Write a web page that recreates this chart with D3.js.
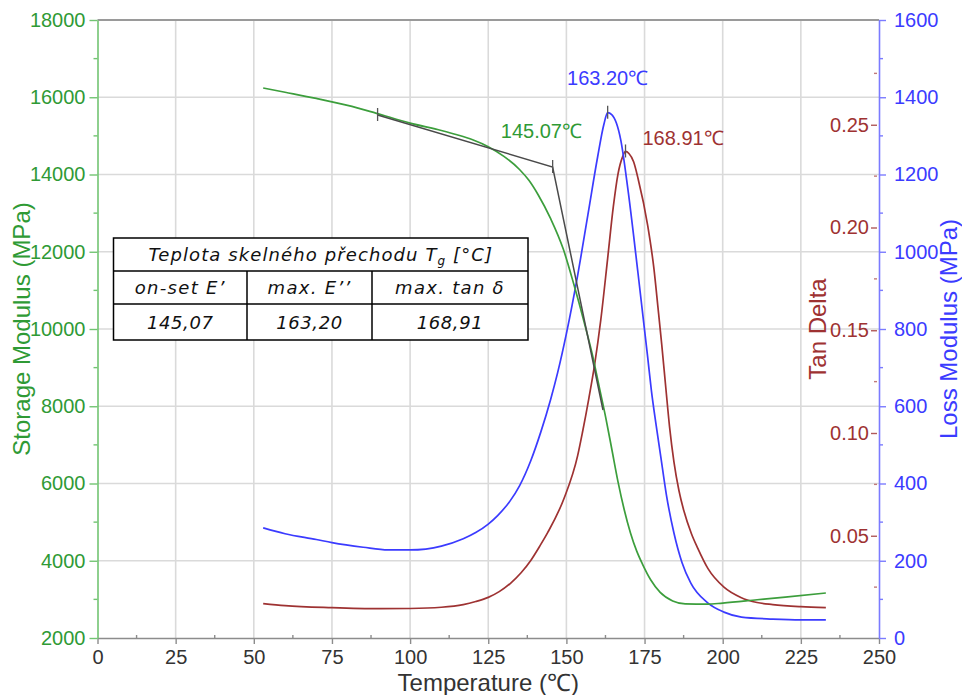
<!DOCTYPE html>
<html><head><meta charset="utf-8">
<script src="https://cdn.jsdelivr.net/npm/d3@7"></script>
<style>body{margin:0;background:#fff}svg{display:block}</style>
</head><body><svg id="c" width="962" height="695"></svg>
<script>
// ---------- data ----------
const storageT = [53, 60, 70, 80, 89, 100, 110, 115, 120, 125, 130, 135, 138, 141, 145, 149, 152.4, 155.6, 158.4, 160.5, 162.6, 164.5, 166.5, 168.5, 170.5, 172.5, 174.3, 177, 180, 184, 188, 195, 200, 211, 220, 233];
const storageE = [16240, 16130, 15970, 15790, 15590, 15330, 15140, 15030, 14900, 14720, 14470, 14130, 13850, 13470, 12850, 12070, 11150, 10200, 9300, 8500, 7700, 6900, 6050, 5320, 4720, 4250, 3920, 3500, 3180, 2960, 2885, 2875, 2905, 2990, 3060, 3165];

const lossT = [53, 60, 70, 75, 85, 93, 100, 110, 117, 121, 125, 128, 132, 135, 138.6, 141.8, 145, 147.2, 150, 153.6, 156.9, 160, 162, 163.2, 164.5, 167.4, 169.7, 172.9, 176, 177.2, 178.6, 180.2, 182, 184.4, 187, 189.8, 195.2, 200.4, 206, 216, 225, 233];
const lossE = [285, 270, 255, 247, 235, 228, 228, 238, 257, 273, 295, 317, 355, 394, 459, 533, 619, 687, 788, 939, 1097, 1246, 1330, 1360, 1355, 1289, 1160, 945, 727, 640, 557, 469, 370, 272, 195, 142, 91, 67, 54, 49, 47, 47];

const tanT = [53, 60, 75, 90, 100, 110, 117, 121, 125, 128.5, 132.2, 135.5, 138.6, 141.5, 144, 149.2, 153.6, 155.1, 157.2, 159, 161, 163.2, 165, 166.5, 168, 168.9, 170, 171.5, 172.9, 176, 178, 179.3, 180.5, 181.8, 183, 184.4, 186, 187.6, 190, 192, 195.3, 200.4, 205.8, 211, 216, 225, 233];
const tanD = [0.017, 0.016, 0.015, 0.0145, 0.0146, 0.0152, 0.0165, 0.0180, 0.0200, 0.0228, 0.0270, 0.0320, 0.0380, 0.0450, 0.0515, 0.068, 0.089, 0.100, 0.117, 0.133, 0.155, 0.185, 0.21, 0.226, 0.2345, 0.237, 0.236, 0.232, 0.224, 0.201, 0.180, 0.161, 0.143, 0.122, 0.103, 0.086, 0.072, 0.062, 0.051, 0.044, 0.034, 0.025, 0.020, 0.0175, 0.0165, 0.0155, 0.015];

const onsetTangentT = [89.6, 145.6, 161.7];
const onsetTangentE = [15540, 14194, 7903];

const onsetT = 145.07, lossPeakT = 163.20, tanPeakT = 168.91;
const lossPeakE = 1360, tanPeakD = 0.237;
const onsetLabel = "145.07\u2103", lossPeakLabel = "163.20\u2103", tanPeakLabel = "168.91\u2103";

const tempTicks = [0, 25, 50, 75, 100, 125, 150, 175, 200, 225, 250];
const tempMinor = [12.5, 37.5, 62.5, 87.5, 112.5, 137.5, 162.5, 187.5, 212.5, 237.5];
const storageTicks = [2000, 4000, 6000, 8000, 10000, 12000, 14000, 16000, 18000];
const storageMinor = [3000, 5000, 7000, 9000, 11000, 13000, 15000, 17000];
const lossTicks = [0, 200, 400, 600, 800, 1000, 1200, 1400, 1600];
const lossMinor = [100, 300, 500, 700, 900, 1100, 1300, 1500];
const tanTicks = [0.05, 0.10, 0.15, 0.20, 0.25];
const tanMinor = [0.025, 0.075, 0.125, 0.175, 0.225, 0.275];

const tableTitle = ["Teplota skelného přechodu T", "g", " [°C]"];
const tableCols = ["on-set E\u2019", "max. E\u2019\u2019", "max. tan \u03b4"];
const tableVals = ["145,07", "163,20", "168,91"];

// ---------- styles ----------
const GREEN = "#3c9e3c", GREEN_T = "#2f9a35", BLUE = "#3b3bff", RED = "#9e3232", GRID = "#dadada";
const FONT = "'Liberation Sans', Arial, sans-serif";

const svg = d3.select("#c");
const L = 97.5, R = 879, T = 20, B = 638;
const x = d3.scaleLinear([0, 250], [L, R]);
const yS = d3.scaleLinear([2000, 18000], [B, T]);
const yL = d3.scaleLinear([0, 1600], [B, T]);
const yT = d3.scaleLinear([0, 0.3], [B + 0.5, 22]);

// grid
svg.append("g").selectAll("line").data(tempTicks.slice(1, -1)).join("line")
  .attr("x1", d => x(d)).attr("x2", d => x(d)).attr("y1", T).attr("y2", B)
  .attr("stroke", GRID).attr("stroke-width", 1.6);
svg.append("g").selectAll("line").data(storageTicks.slice(1, -1)).join("line")
  .attr("y1", d => yS(d)).attr("y2", d => yS(d)).attr("x1", L).attr("x2", R)
  .attr("stroke", GRID).attr("stroke-width", 1.6);
// top border
svg.append("line").attr("x1", L).attr("x2", R).attr("y1", T).attr("y2", T)
  .attr("stroke", "#9a9a9a").attr("stroke-width", 2.2);

function styleAxis(g, color, lineColor) {
  g.selectAll("text").attr("fill", color).style("font-family", FONT).style("font-size", "20px");
  g.selectAll("line").attr("stroke", lineColor).attr("stroke-width", 1.4);
  g.select(".domain").attr("stroke", lineColor).attr("stroke-width", 1.6);
}

// bottom axis
const gx = svg.append("g").attr("transform", `translate(0,${B})`)
  .call(d3.axisBottom(x).tickValues(tempTicks).tickFormat(d3.format("d")).tickSize(6).tickPadding(6).tickSizeOuter(0));
styleAxis(gx, "#333", "#8c8c8c");
svg.append("g").selectAll("line").data(tempMinor).join("line")
  .attr("x1", d => x(d)).attr("x2", d => x(d)).attr("y1", B - 3).attr("y2", B)
  .attr("stroke", "#8c8c8c").attr("stroke-width", 1.4);

// left axis
const gy = svg.append("g").attr("transform", `translate(${L},0)`)
  .call(d3.axisLeft(yS).tickValues(storageTicks).tickFormat(d3.format("d")).tickSize(8).tickPadding(4).tickSizeOuter(0));
styleAxis(gy, GREEN_T, "#72c472");
svg.append("g").selectAll("line").data(storageMinor).join("line")
  .attr("y1", d => yS(d)).attr("y2", d => yS(d)).attr("x1", L - 4).attr("x2", L)
  .attr("stroke", "#72c472").attr("stroke-width", 1.4);

// right loss axis
const gl = svg.append("g").attr("transform", `translate(${R},0)`)
  .call(d3.axisRight(yL).tickValues(lossTicks).tickFormat(d3.format("d")).tickSize(7).tickPadding(8).tickSizeOuter(0));
styleAxis(gl, BLUE, "#7b7bff");
svg.append("g").selectAll("line").data(lossMinor).join("line")
  .attr("y1", d => yL(d)).attr("y2", d => yL(d)).attr("x1", R).attr("x2", R + 4)
  .attr("stroke", "#7b7bff").attr("stroke-width", 1.4);

// tan delta axis (ticks only, left of loss axis)
const gt = svg.append("g").attr("transform", `translate(${R - 2},0)`)
  .call(d3.axisLeft(yT).tickValues(tanTicks).tickFormat(d3.format(".2f")).tickSize(6).tickPadding(2).tickSizeOuter(0));
styleAxis(gt, RED, "#b05a5a");
gt.select(".domain").remove();
svg.append("g").selectAll("line").data(tanMinor).join("line")
  .attr("y1", d => yT(d)).attr("y2", d => yT(d)).attr("x1", R - 5).attr("x2", R - 2)
  .attr("stroke", "#c07a7a").attr("stroke-width", 1.4);

// axis titles
svg.append("text").attr("x", (L + R) / 2).attr("y", 691).attr("text-anchor", "middle")
  .style("font-family", FONT).style("font-size", "24px").attr("fill", "#333").text("Temperature (\u2103)");
svg.append("text").attr("transform", `translate(30,${(T + B) / 2}) rotate(-90)`).attr("text-anchor", "middle")
  .style("font-family", FONT).style("font-size", "24px").attr("fill", GREEN_T).text("Storage Modulus (MPa)");
svg.append("text").attr("transform", `translate(957,${(T + B) / 2}) rotate(-90)`).attr("text-anchor", "middle")
  .style("font-family", FONT).style("font-size", "24px").attr("fill", BLUE).text("Loss Modulus (MPa)");
svg.append("text").attr("transform", `translate(826,${(T + B) / 2}) rotate(-90)`).attr("text-anchor", "middle")
  .style("font-family", FONT).style("font-size", "24px").attr("fill", RED).text("Tan Delta");

// curves
const lineS = d3.line().x(d => x(d[0])).y(d => yS(d[1])).curve(d3.curveMonotoneX);
const lineL = d3.line().x(d => x(d[0])).y(d => yL(d[1])).curve(d3.curveMonotoneX);
const lineT = d3.line().x(d => x(d[0])).y(d => yT(d[1])).curve(d3.curveMonotoneX);

svg.append("path").attr("d", lineT(d3.zip(tanT, tanD))).attr("fill", "none").attr("stroke", RED).attr("stroke-width", 1.7);
svg.append("path").attr("d", lineL(d3.zip(lossT, lossE))).attr("fill", "none").attr("stroke", BLUE).attr("stroke-width", 1.7);
svg.append("path").attr("d", lineS(d3.zip(storageT, storageE))).attr("fill", "none").attr("stroke", GREEN).attr("stroke-width", 1.7);
svg.append("path").attr("d", d3.line().x(d => x(d[0])).y(d => yS(d[1]))(d3.zip(onsetTangentT, onsetTangentE)))
  .attr("fill", "none").attr("stroke", "#4a4a4a").attr("stroke-width", 1.5);

// markers
const marks = [
  [x(onsetTangentT[0]), yS(onsetTangentE[0])],
  [x(onsetTangentT[1]), yS(onsetTangentE[1])],
  [x(lossPeakT), yL(lossPeakE)],
  [x(tanPeakT), yT(tanPeakD)]
];
svg.append("g").selectAll("line").data(marks).join("line")
  .attr("x1", d => d[0]).attr("x2", d => d[0]).attr("y1", d => d[1] - 7).attr("y2", d => d[1] + 6)
  .attr("stroke", "#555").attr("stroke-width", 1.3);

// peak labels
svg.append("text").attr("x", x(onsetT) + 31).attr("y", 138).attr("text-anchor", "end")
  .style("font-family", FONT).style("font-size", "20px").attr("fill", GREEN_T).text(onsetLabel);
svg.append("text").attr("x", x(lossPeakT)).attr("y", 85).attr("text-anchor", "middle")
  .style("font-family", FONT).style("font-size", "20px").attr("fill", BLUE).text(lossPeakLabel);
svg.append("text").attr("x", x(tanPeakT) + 17).attr("y", 145).attr("text-anchor", "start")
  .style("font-family", FONT).style("font-size", "20px").attr("fill", RED).text(tanPeakLabel);

// table
const tb = svg.append("g");
const tx0 = 113.5, tx1 = 528, ty = [238, 271, 304, 340], cx = [113.5, 247, 372, 528];
tb.append("rect").attr("x", tx0).attr("y", ty[0]).attr("width", tx1 - tx0).attr("height", ty[3] - ty[0])
  .attr("fill", "#fff").attr("stroke", "#000").attr("stroke-width", 1.5);
[ty[1], ty[2]].forEach(yy => tb.append("line").attr("x1", tx0).attr("x2", tx1).attr("y1", yy).attr("y2", yy).attr("stroke", "#000").attr("stroke-width", 1.5));
[cx[1], cx[2]].forEach(xx => tb.append("line").attr("x1", xx).attr("x2", xx).attr("y1", ty[1]).attr("y2", ty[3]).attr("stroke", "#000").attr("stroke-width", 1.5));
const TF = "'DejaVu Sans', Verdana, sans-serif";
const ht = tb.append("text").attr("x", (tx0 + tx1) / 2).attr("y", 261).attr("text-anchor", "middle")
  .style("font-family", TF).style("font-style", "italic").style("font-size", "18px").style("letter-spacing", "1.1px").attr("fill", "#111");
ht.append("tspan").text(tableTitle[0]);
ht.append("tspan").attr("dy", 4).style("font-size", "12px").text(tableTitle[1]);
ht.append("tspan").attr("dy", -4).text(tableTitle[2]);
tableCols.forEach((t, i) => tb.append("text").attr("x", (cx[i] + cx[i + 1]) / 2).attr("y", 294).attr("text-anchor", "middle")
  .style("font-family", TF).style("font-style", "italic").style("font-size", "18px").style("letter-spacing", "1.3px").attr("fill", "#111").text(t));
tableVals.forEach((t, i) => tb.append("text").attr("x", (cx[i] + cx[i + 1]) / 2).attr("y", 329).attr("text-anchor", "middle")
  .style("font-family", TF).style("font-style", "italic").style("font-size", "18px").style("letter-spacing", "0.6px").attr("fill", "#111").text(t));
</script></body></html>
